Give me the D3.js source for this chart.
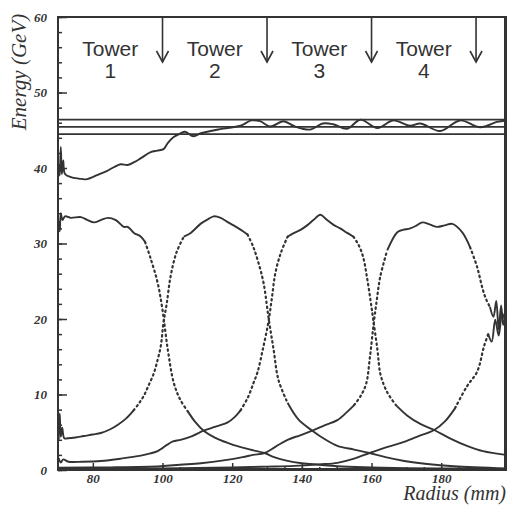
<!DOCTYPE html>
<html lang="en">
<head>
  <meta charset="UTF-8">
  <title>Tower energy vs radius</title>
  <script src="https://d3js.org/d3.v7.min.js"></script>
</head>
<body style="margin:0; background:#fff;">
  <div id="chart"></div>
  <script>
// tower boundaries (mm) and names
const towerEdges = [70, 100, 130, 160, 190];
const towerNames = ["1", "2", "3", "4"];

// mean total energy and +-2% band (GeV)
const refLines = [44.5, 45.45, 46.4];

// ticks
const xMajorTicks = [80, 100, 120, 140, 160, 180];
const xMinorTicks = d3.range(70, 199, 5);
const yMajorTicks = [0, 10, 20, 30, 40, 50, 60];
const yMinorTicks = d3.range(0, 61, 2);

// series: [radius mm, energy GeV]
const sumCurve = [[70.2,40.5],[70.5,39.0],[70.8,42.8],[71.1,39.2],[71.5,41.0],[72,39.2],[73.7,38.8],[76,38.6],[78,38.5],[81.4,39.1],[84,39.6],[86,40.1],[88,40.5],[90,40.4],[92,40.8],[93.8,41.3],[96.6,42.1],[98.5,42.3],[100.3,42.5],[101.5,43.3],[103.2,44.1],[105.2,44.6],[106.5,44.8],[108.9,44.2],[111,44.6],[113.8,44.9],[116,45.1],[118.7,45.3],[122.4,45.6],[125.5,46.3],[128,46.2],[131,45.5],[134.7,46.2],[138,45.5],[142.5,45.1],[146,45.9],[149,45.8],[153,45.2],[156.8,46.4],[161.7,45.3],[166.2,46.3],[171,45.6],[174,45.9],[179.7,44.9],[185.4,46.3],[191.2,45.4],[196,46.1],[198.6,46.3]];

const tower1 = [[70.2,33.0],[70.5,31.6],[70.8,34.0],[71.3,33.1],[72,33.6],[73.7,33.4],[76.6,33.5],[78.5,33.1],[80.3,32.8],[82.3,33.1],[84.3,33.4],[86.6,33.1],[88.9,32.2],[90,32.2],[91.8,31.4],[93.8,30.9],[95,30.2],[96.6,28.0],[98.6,24.8],[100,21.2],[101.5,16.0],[103.2,11.6],[105,9.4],[107.2,7.8],[109.5,6.3],[111.8,5.2],[115,4.3],[118.7,3.6],[122,3.1],[126.1,2.6],[129.3,2.25],[132,1.7],[135.9,1.2],[140,0.9],[145,0.7],[150.2,0.5],[160,0.35],[170,0.25],[185,0.2],[198.6,0.15]];

const tower2 = [[70.2,4.0],[70.5,7.5],[70.8,4.4],[71.2,5.6],[71.8,4.2],[72.8,4.2],[75,4.3],[77.4,4.5],[80,4.7],[82.3,4.9],[85,5.4],[87.2,6.0],[89.5,6.8],[91.7,7.9],[93.2,8.8],[94.6,9.8],[96,11.2],[97.5,12.8],[98.6,14.6],[99.5,16.4],[100.3,19.6],[101.2,22.0],[102.3,25.6],[104,28.8],[106.1,30.9],[108.1,31.4],[110.9,32.6],[113,33.2],[114.7,33.6],[116.7,33.4],[118.5,32.9],[120.4,32.4],[122.5,31.8],[124.4,31.2],[126.1,29.5],[127.5,27.5],[129,24.8],[130.4,20.3],[131.9,15.9],[133.3,11.9],[135.9,8.9],[139,6.7],[143,5.2],[146.5,4.1],[150.2,3.2],[155,2.7],[159.4,2.25],[164,1.7],[169.4,1.2],[176,0.8],[183.7,0.5],[198.6,0.2]];

const tower3 = [[70.2,1.6],[70.8,1.0],[71.5,1.4],[73,1.1],[77,1.1],[82.3,1.2],[88,1.5],[93.8,1.9],[96.5,2.2],[98.6,2.5],[100,2.9],[101.5,3.4],[103,3.8],[105.2,4.0],[108.5,4.5],[111.8,5.2],[115,5.7],[118.7,6.3],[120.7,7.0],[122.4,7.9],[124.5,9.6],[126.1,11.5],[127.3,13.0],[128.8,16.0],[130.4,19.6],[131.4,22.8],[132.4,26.1],[134,28.8],[135.9,30.9],[137.8,31.4],[139.6,31.8],[141.5,32.4],[143.3,33.1],[145.3,33.8],[147,33.2],[149,32.5],[151,32.0],[153,31.4],[154.8,30.9],[156.3,29.8],[157.6,28.2],[158.7,25.5],[159.7,22.5],[160.5,19.9],[161.7,15.9],[162.6,12.6],[164.5,10.3],[167,8.6],[170.3,7.2],[174,6.1],[178,5.3],[182.5,4.2],[187.4,3.2],[192,2.5],[198.6,2.0]];

const tower4 = [[70.2,0.3],[85,0.35],[99.5,0.5],[105,0.7],[111,0.9],[118,1.3],[123,1.7],[126,2.0],[129.3,2.25],[132.5,3.1],[135.9,4.0],[139.5,4.6],[143,5.2],[146.5,5.9],[150.2,6.6],[153,7.7],[155,8.6],[157,9.9],[158.5,11.5],[159.5,14.8],[160.5,18.9],[161.5,22.5],[162.5,25.6],[164.5,29.1],[167.4,31.5],[169,31.8],[171.1,32.0],[173,32.4],[174.6,32.8],[176.8,32.5],[178.9,32.2],[181,32.4],[183.2,32.6],[186,31.5],[188.3,29.5],[190.3,26.9],[192,23.8],[193,22.5],[194,21.6],[195,20.3],[195.8,22.4],[196.5,18.6],[197.2,21.8],[197.8,19.2],[198.6,21.0]];

const tower5 = [[70.2,0.1],[100,0.2],[120,0.35],[130,0.45],[137.9,0.55],[145,0.75],[150.2,0.95],[155,1.5],[159.4,2.25],[163.5,2.9],[168.5,3.6],[173,4.4],[178,5.3],[181,6.4],[184,8.2],[187.4,11.1],[190.3,13.0],[192.3,16.4],[193.5,18.0],[194.5,17.0],[195.5,19.9],[196.5,17.8],[197.5,20.8],[198.6,19.0]];

const allSeries = [sumCurve, tower1, tower2, tower3, tower4, tower5];

const ink = "#333";
const width = 508, height = 506;

const svg = d3.select("#chart")
  .append("svg")
  .attr("width", width)
  .attr("height", height);

const x = d3.scaleLinear().domain([70, 198.6]).range([58, 506]);
const y = d3.scaleLinear().domain([0, 60]).range([470, 17]);

// axes (ticks point inward)
function styleAxis(g) {
  g.select(".domain").remove();
  g.selectAll("line").attr("stroke", ink).attr("stroke-width", 1.5);
  g.selectAll("text")
    .attr("fill", ink)
    .attr("font-family", "Liberation Serif, serif")
    .attr("font-style", "italic")
    .attr("font-weight", "bold")
    .attr("font-size", 13);
}

svg.append("g")
  .attr("transform", `translate(${x.range()[0]},0)`)
  .call(d3.axisLeft(y).tickValues(yMinorTicks).tickSize(-4).tickFormat(""))
  .call(styleAxis);
svg.append("g")
  .attr("transform", `translate(${x.range()[0]},0)`)
  .call(d3.axisLeft(y).tickValues(yMajorTicks).tickSize(-9).tickPadding(11))
  .call(styleAxis);

svg.append("g")
  .attr("transform", `translate(0,${y.range()[0]})`)
  .call(d3.axisBottom(x).tickValues(xMinorTicks).tickSize(-3).tickFormat(""))
  .call(styleAxis);
svg.append("g")
  .attr("transform", `translate(0,${y.range()[0]})`)
  .call(d3.axisBottom(x).tickValues(xMajorTicks).tickSize(-7).tickPadding(4))
  .call(styleAxis);

// frame
svg.append("rect")
  .attr("x", x.range()[0])
  .attr("y", y.range()[1])
  .attr("width", x.range()[1] - x.range()[0])
  .attr("height", y.range()[0] - y.range()[1])
  .attr("fill", "none")
  .attr("stroke", ink)
  .attr("stroke-width", 2);
svg.append("line")
  .attr("x1", x.range()[0]).attr("x2", x.range()[1])
  .attr("y1", y(0) - 0.5).attr("y2", y(0) - 0.5)
  .attr("stroke", ink).attr("stroke-width", 3);
svg.append("line")
  .attr("x1", x.range()[1] - 0.5).attr("x2", x.range()[1] - 0.5)
  .attr("y1", y(60)).attr("y2", y(0))
  .attr("stroke", ink).attr("stroke-width", 3);

// reference band lines
svg.selectAll(".ref")
  .data(refLines)
  .join("line")
  .attr("class", "ref")
  .attr("x1", x.range()[0]).attr("x2", x.range()[1])
  .attr("y1", d => y(d)).attr("y2", d => y(d))
  .attr("stroke", ink)
  .attr("stroke-width", 1.8);

// curves: steep parts look dotted in the original
const line = d3.line()
  .x(d => x(d[0]))
  .y(d => y(d[1]))
  .curve(d3.curveCatmullRom.alpha(0.5));

function splitRuns(pts) {
  const runs = [];
  let cur = null;
  for (let i = 1; i < pts.length; i++) {
    const a = pts[i - 1], b = pts[i];
    const slope = Math.abs((b[1] - a[1]) / (b[0] - a[0]));
    const steep = slope > 0.6 && a[1] > 7 && b[1] > 7 && a[1] < 31.5 && b[1] < 31.5 && b[0] < 194.5;
    if (!cur || cur.steep !== steep) {
      cur = { steep: steep, pts: [a] };
      runs.push(cur);
    }
    cur.pts.push(b);
  }
  return runs;
}

allSeries.forEach(series => {
  splitRuns(series).forEach(run => {
    svg.append("path")
      .attr("d", line(run.pts))
      .attr("fill", "none")
      .attr("stroke", ink)
      .attr("stroke-width", run.steep ? 2.2 : 1.9)
      .attr("stroke-linecap", run.steep ? "round" : "butt")
      .attr("stroke-dasharray", run.steep ? "1.5,3.5" : null);
  });
});

// tower boundary arrows
towerEdges.slice(1).forEach(edge => {
  const ax = x(edge);
  svg.append("line")
    .attr("x1", ax).attr("x2", ax)
    .attr("y1", y(60)).attr("y2", 62)
    .attr("stroke", ink).attr("stroke-width", 1.6);
  svg.append("polyline")
    .attr("points", `${ax - 6},51 ${ax},62 ${ax + 6},51`)
    .attr("fill", "none")
    .attr("stroke", ink).attr("stroke-width", 1.6);
});

// tower labels
towerNames.forEach((name, i) => {
  const cx = x((towerEdges[i] + towerEdges[i + 1]) / 2);
  const t = svg.append("text")
    .attr("text-anchor", "middle")
    .attr("font-family", "Liberation Sans, Arial, sans-serif")
    .attr("font-size", 21)
    .attr("fill", ink);
  t.append("tspan").attr("x", cx).attr("y", 56).text("Tower");
  t.append("tspan").attr("x", cx).attr("y", 78).text(name);
});

// axis titles
svg.append("text")
  .attr("transform", "translate(26,72) rotate(-90)")
  .attr("text-anchor", "middle")
  .attr("font-family", "Liberation Serif, serif")
  .attr("font-style", "italic")
  .attr("font-size", 21)
  .attr("fill", ink)
  .text("Energy (GeV)");

svg.append("text")
  .attr("x", 506)
  .attr("y", 500)
  .attr("text-anchor", "end")
  .attr("font-family", "Liberation Serif, serif")
  .attr("font-style", "italic")
  .attr("font-size", 20)
  .attr("fill", ink)
  .text("Radius (mm)");
  </script>
</body>
</html>
